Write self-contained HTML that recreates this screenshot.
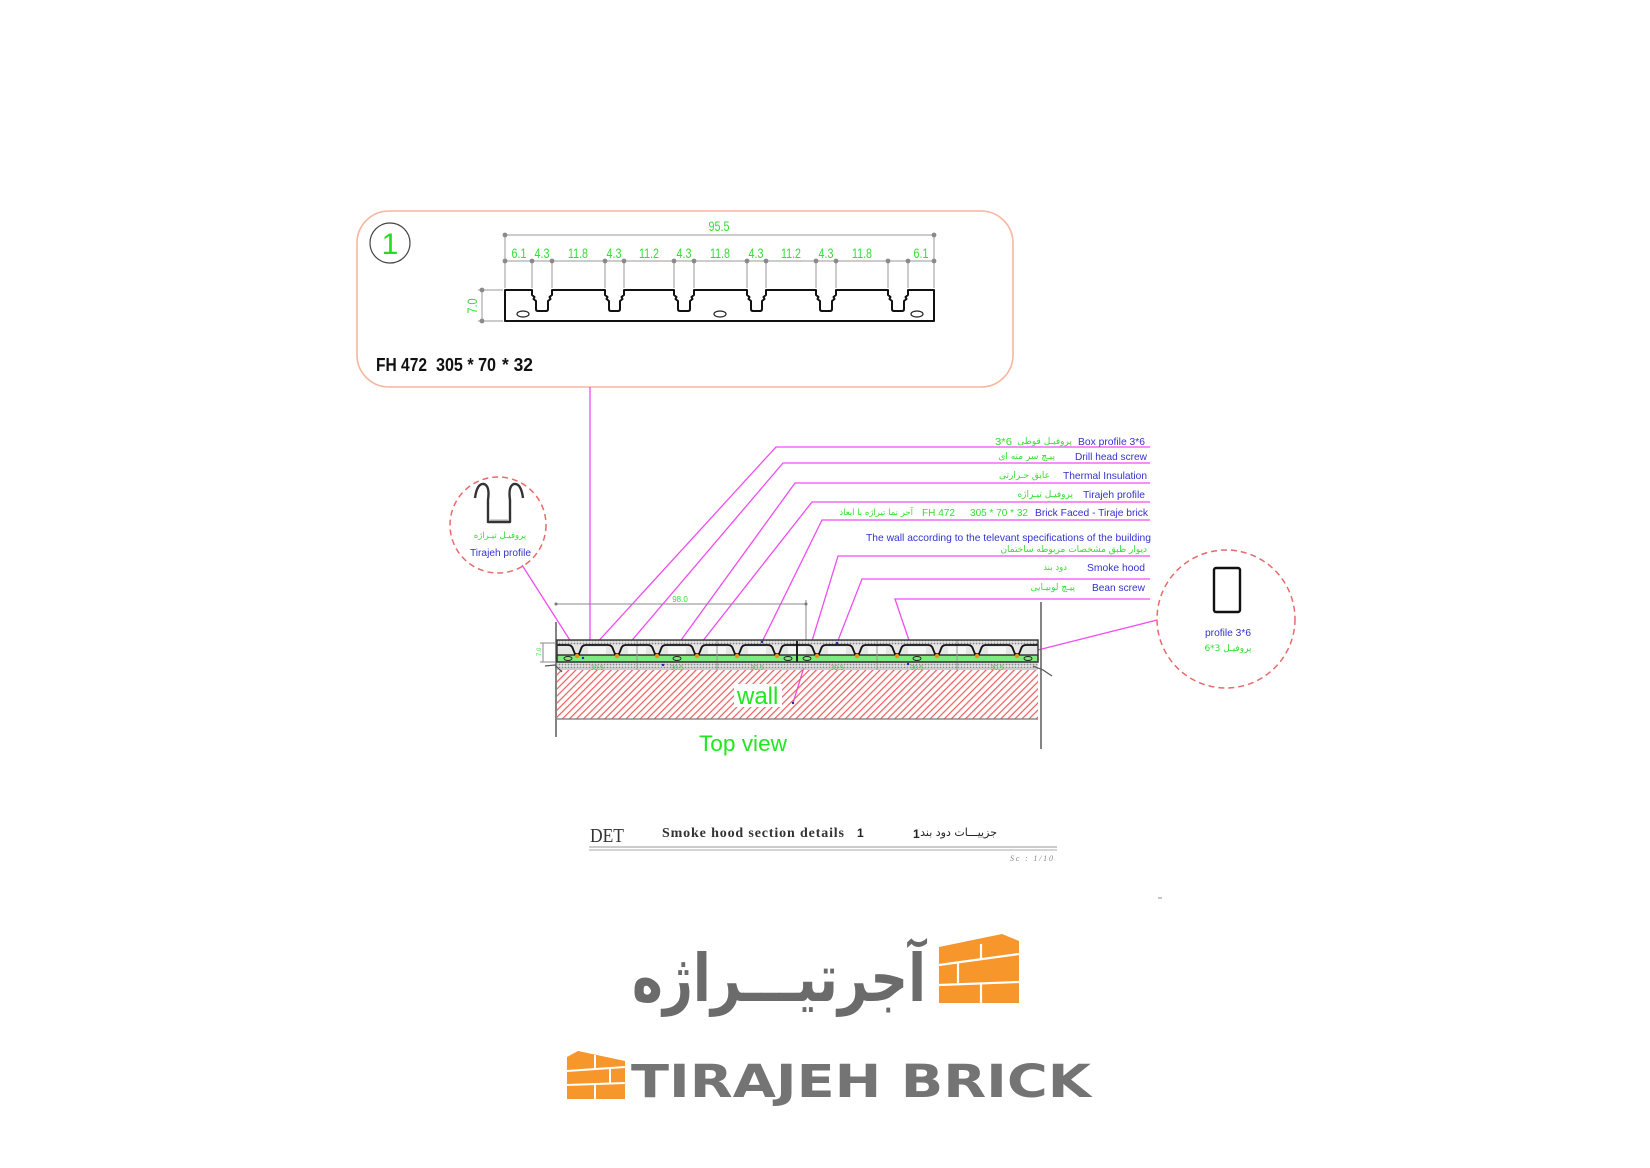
<!DOCTYPE html>
<html><head><meta charset="utf-8"><style>
html,body{margin:0;padding:0;background:#fff;}
svg{display:block;}
.en{font-family:"Liberation Sans",Arial,sans-serif;}
.fa{font-family:"DejaVu Sans","Liberation Sans",sans-serif;}
</style></head><body>
<svg width="1650" height="1168" viewBox="0 0 1650 1168" xmlns="http://www.w3.org/2000/svg">
<defs>
<pattern id="hatch" width="5" height="5" patternUnits="userSpaceOnUse" patternTransform="rotate(45)">
<line x1="1" y1="0" x2="1" y2="5" stroke="#ee5a5a" stroke-width="1.2"/>
</pattern>
<pattern id="dots" width="3" height="3" patternUnits="userSpaceOnUse">
<rect width="3" height="3" fill="#e2e2e2"/><circle cx="1.5" cy="1.5" r="0.9" fill="#8a8a8a"/>
</pattern>
</defs>
<rect width="1650" height="1168" fill="#fff"/>

<!-- ===== Detail 1 box ===== -->
<rect x="357" y="211" width="656" height="176" rx="32" fill="none" stroke="#f5b7a0" stroke-width="1.6"/>
<circle cx="390" cy="243" r="20" fill="none" stroke="#444" stroke-width="1.2"/>
<text x="390" y="254" text-anchor="middle" class="en" font-size="30" fill="#22dd22">1</text>

<!-- dimensions -->
<g stroke="#9a9a9a" stroke-width="1" fill="none">
<line x1="505" y1="235" x2="934" y2="235"/>
<line x1="505" y1="261" x2="934" y2="261"/>
<line x1="505" y1="235" x2="505" y2="288"/>
<line x1="934" y1="235" x2="934" y2="288"/>
<line x1="532" y1="261" x2="532" y2="288"/><line x1="552" y1="261" x2="552" y2="288"/>
<line x1="605" y1="261" x2="605" y2="288"/><line x1="624" y1="261" x2="624" y2="288"/>
<line x1="674" y1="261" x2="674" y2="288"/><line x1="694" y1="261" x2="694" y2="288"/>
<line x1="747" y1="261" x2="747" y2="288"/><line x1="766" y1="261" x2="766" y2="288"/>
<line x1="816" y1="261" x2="816" y2="288"/><line x1="836" y1="261" x2="836" y2="288"/>
<line x1="888" y1="261" x2="888" y2="288"/><line x1="908" y1="261" x2="908" y2="288"/>
<line x1="482" y1="290" x2="482" y2="321"/>
<line x1="478" y1="290" x2="503" y2="290"/>
<line x1="478" y1="321" x2="503" y2="321"/>
</g>
<g fill="#8a8a8a">
<circle cx="505" cy="235" r="2.4"/><circle cx="934" cy="235" r="2.4"/>
<circle cx="505" cy="261" r="2.4"/><circle cx="532" cy="261" r="2.4"/><circle cx="552" cy="261" r="2.4"/>
<circle cx="605" cy="261" r="2.4"/><circle cx="624" cy="261" r="2.4"/><circle cx="674" cy="261" r="2.4"/>
<circle cx="694" cy="261" r="2.4"/><circle cx="747" cy="261" r="2.4"/><circle cx="766" cy="261" r="2.4"/>
<circle cx="816" cy="261" r="2.4"/><circle cx="836" cy="261" r="2.4"/><circle cx="888" cy="261" r="2.4"/>
<circle cx="908" cy="261" r="2.4"/><circle cx="934" cy="261" r="2.4"/>
<circle cx="482" cy="290" r="2.4"/><circle cx="482" cy="321" r="2.4"/>
</g>
<g class="en" font-size="14" fill="#33dd33" text-anchor="middle">
<text x="719" y="231" textLength="21" lengthAdjust="spacingAndGlyphs">95.5</text>
<text x="519" y="258" textLength="15" lengthAdjust="spacingAndGlyphs">6.1</text>
<text x="542" y="258" textLength="15" lengthAdjust="spacingAndGlyphs">4.3</text>
<text x="578" y="258" textLength="20" lengthAdjust="spacingAndGlyphs">11.8</text>
<text x="614" y="258" textLength="15" lengthAdjust="spacingAndGlyphs">4.3</text>
<text x="649" y="258" textLength="20" lengthAdjust="spacingAndGlyphs">11.2</text>
<text x="684" y="258" textLength="15" lengthAdjust="spacingAndGlyphs">4.3</text>
<text x="720" y="258" textLength="20" lengthAdjust="spacingAndGlyphs">11.8</text>
<text x="756" y="258" textLength="15" lengthAdjust="spacingAndGlyphs">4.3</text>
<text x="791" y="258" textLength="20" lengthAdjust="spacingAndGlyphs">11.2</text>
<text x="826" y="258" textLength="15" lengthAdjust="spacingAndGlyphs">4.3</text>
<text x="862" y="258" textLength="20" lengthAdjust="spacingAndGlyphs">11.8</text>
<text x="921" y="258" textLength="15" lengthAdjust="spacingAndGlyphs">6.1</text>
<text x="0" y="0" transform="translate(477,306) rotate(-90)" textLength="15" lengthAdjust="spacingAndGlyphs">7.0</text>
</g>

<!-- profile FH472 -->
<path fill="#fff" stroke="#111" stroke-width="2" stroke-linejoin="round" d="M505,290 L532,290
L532,295 L534.5,297 L533.5,299 L536,301 L536,309 Q536,311 538,311 L546,311 Q548,311 548,309 L548,301 L550.5,299 L549.5,297 L552,295 L552,290
L605,290 L605,295 L607.5,297 L606.5,299 L609,301 L609,309 Q609,311 611,311 L618,311 Q620,311 620,309 L620,301 L622.5,299 L621.5,297 L624,295 L624,290
L674,290 L674,295 L676.5,297 L675.5,299 L678,301 L678,309 Q678,311 680,311 L688,311 Q690,311 690,309 L690,301 L692.5,299 L691.5,297 L694,295 L694,290
L747,290 L747,295 L749.5,297 L748.5,299 L751,301 L751,309 Q751,311 753,311 L760,311 Q762,311 762,309 L762,301 L764.5,299 L763.5,297 L766,295 L766,290
L816,290 L816,295 L818.5,297 L817.5,299 L820,301 L820,309 Q820,311 822,311 L830,311 Q832,311 832,309 L832,301 L834.5,299 L833.5,297 L836,295 L836,290
L888,290 L888,295 L890.5,297 L889.5,299 L892,301 L892,309 Q892,311 894,311 L902,311 Q904,311 904,309 L904,301 L906.5,299 L905.5,297 L908,295 L908,290
L934,290 L934,321 L505,321 Z"/>
<g fill="none" stroke="#222" stroke-width="1.2">
<ellipse cx="523" cy="314" rx="6" ry="3"/>
<ellipse cx="720" cy="314" rx="6" ry="3"/>
<ellipse cx="917" cy="314" rx="6" ry="3"/>
</g>
<g class="en" font-size="18" font-weight="bold" fill="#111">
<text x="376" y="371" textLength="51" lengthAdjust="spacingAndGlyphs">FH 472</text>
<text x="436" y="371" textLength="60" lengthAdjust="spacingAndGlyphs">305 * 70</text>
<text x="502" y="371" textLength="31" lengthAdjust="spacingAndGlyphs">* 32</text>
</g>

<!-- ===== Leader lines ===== -->
<g stroke="#f04cf0" stroke-width="1.3" fill="none">
<line x1="590" y1="387" x2="590" y2="645"/>
<polyline points="1150,447 776,447 583,658"/>
<polyline points="1150,463 783,463 628,645"/>
<polyline points="1150,483 795,483 663,665"/>
<polyline points="1150,502 812,502 698,647"/>
<polyline points="1150,520 822,520 762,642"/>
<polyline points="1150,556 838,556 793,703"/>
<polyline points="1150,579 862,579 837,643"/>
<polyline points="1150,599 895,599 915,658"/>
<line x1="522" y1="565" x2="573" y2="645"/>
<line x1="1157" y1="620" x2="1030" y2="652"/>
</g>

<!-- ===== Labels ===== -->
<g class="en" font-size="10.5" fill="#3333cc">
<text x="1078" y="445" textLength="67" lengthAdjust="spacingAndGlyphs">Box profile 3*6</text>
<text x="1075" y="460" textLength="72" lengthAdjust="spacingAndGlyphs">Drill head screw</text>
<text x="1063" y="479" textLength="84" lengthAdjust="spacingAndGlyphs">Thermal Insulation</text>
<text x="1083" y="498" textLength="62" lengthAdjust="spacingAndGlyphs">Tirajeh profile</text>
<text x="1035" y="516" textLength="113" lengthAdjust="spacingAndGlyphs">Brick Faced - Tiraje brick</text>
<text x="866" y="541" textLength="285" lengthAdjust="spacingAndGlyphs">The wall according to the televant specifications of the building</text>
<text x="1087" y="571" textLength="58" lengthAdjust="spacingAndGlyphs">Smoke hood</text>
<text x="1092" y="591" textLength="53" lengthAdjust="spacingAndGlyphs">Bean screw</text>
</g>
<g fill="#33dd33">
<text x="995" y="445" class="en" font-size="10.5" textLength="17" lengthAdjust="spacingAndGlyphs">3*6</text>
<text x="1072" y="444" class="fa" font-size="9" text-anchor="end">پروفیـل قوطی</text>
<text x="1055" y="459" class="fa" font-size="9" text-anchor="end">پیـچ سر مته ای</text>
<text x="1050" y="478" class="fa" font-size="9" text-anchor="end">عایق حـرارتی</text>
<text x="1073" y="497" class="fa" font-size="9" text-anchor="end">پروفیـل تیـراژه</text>
<text x="970" y="516" class="en" font-size="10.5" textLength="58" lengthAdjust="spacingAndGlyphs">305 * 70 * 32</text>
<text x="922" y="516" class="en" font-size="10.5" textLength="33" lengthAdjust="spacingAndGlyphs">FH 472</text>
<text x="913" y="515" class="fa" font-size="8.5" text-anchor="end">آجر نما تیراژه با ابعاد</text>
<text x="1147" y="552" class="fa" font-size="9" text-anchor="end">دیوار طبق مشخصات مربوطه ساختمان</text>
<text x="1067" y="570" class="fa" font-size="8.5" text-anchor="end">دود بند</text>
<text x="1075" y="590" class="fa" font-size="9" text-anchor="end">پیـچ لوبیـایی</text>
</g>

<!-- ===== Left circle: Tirajeh profile ===== -->
<circle cx="498" cy="525" r="48" fill="none" stroke="#e86a6a" stroke-width="1.5" stroke-dasharray="6 4"/>
<path d="M475,498 Q477,483 484,484 Q490,486 488,500 L488,522 L510,522 L510,500 Q508,486 514,484 Q521,483 523,498" fill="none" stroke="#333" stroke-width="2.4" stroke-linejoin="round"/>
<line x1="490" y1="520" x2="508" y2="520" stroke="#aaa" stroke-width="1"/>
<text x="500" y="538" class="fa" font-size="8.5" fill="#33dd33" text-anchor="middle">پروفیـل تیـراژه</text>
<text x="470" y="556" class="en" font-size="10" fill="#3333cc" textLength="61" lengthAdjust="spacingAndGlyphs">Tirajeh profile</text>

<!-- ===== Right circle: profile 3*6 ===== -->
<circle cx="1226" cy="619" r="69" fill="none" stroke="#e86a6a" stroke-width="1.5" stroke-dasharray="6 4"/>
<rect x="1214" y="568" width="26" height="44" rx="2" fill="none" stroke="#111" stroke-width="2.4"/>
<text x="1205" y="636" class="en" font-size="10.5" fill="#3333cc" textLength="46" lengthAdjust="spacingAndGlyphs">profile 3*6</text>
<text x="1228" y="651" class="fa" font-size="9" fill="#33dd33" text-anchor="middle">پروفیـل 3*6</text>

<!-- ===== Section drawing ===== -->
<line x1="556" y1="622" x2="556" y2="737" stroke="#666" stroke-width="1.6"/>
<line x1="1041" y1="602" x2="1041" y2="749" stroke="#666" stroke-width="1.6"/>
<g stroke="#888" stroke-width="1">
<line x1="556" y1="604" x2="806" y2="604"/>
<line x1="806" y1="600" x2="806" y2="641"/>
<line x1="543" y1="643" x2="543" y2="662"/>
<line x1="540" y1="643" x2="556" y2="643"/>
<line x1="540" y1="662" x2="556" y2="662"/>
</g>
<circle cx="556" cy="604" r="1.5" fill="#777"/><circle cx="806" cy="604" r="1.5" fill="#777"/>
<text x="680" y="602" class="en" font-size="8" fill="#33dd33" text-anchor="middle">98.0</text>
<text x="0" y="0" transform="translate(541,656) rotate(-90)" class="en" font-size="6" fill="#33dd33">7.0</text>

<!-- wall hatch -->
<rect x="557" y="670" width="481" height="49" fill="url(#hatch)"/>
<line x1="557" y1="719" x2="1038" y2="719" stroke="#777" stroke-width="1.2"/>
<line x1="557" y1="669" x2="1038" y2="669" stroke="#999" stroke-width="1"/>
<!-- insulation band -->
<rect x="557" y="662" width="481" height="6" fill="url(#dots)"/>
<!-- panel upper zone -->
<rect x="557" y="640" width="481" height="5" fill="url(#dots)"/>
<rect x="557" y="645" width="481" height="10" fill="#e6e6e6"/>
<g fill="#f7f7f7">
<rect x="588" y="647" width="18" height="7"/><rect x="628" y="647" width="18" height="7"/>
<rect x="668" y="647" width="18" height="7"/><rect x="708" y="647" width="18" height="7"/>
<rect x="748" y="647" width="18" height="7"/><rect x="788" y="647" width="18" height="7"/>
<rect x="828" y="647" width="18" height="7"/><rect x="868" y="647" width="18" height="7"/>
<rect x="908" y="647" width="18" height="7"/><rect x="948" y="647" width="18" height="7"/>
<rect x="988" y="647" width="18" height="7"/>
</g>
<!-- green band -->
<rect x="557" y="655" width="481" height="7" fill="#80ea80" stroke="#111" stroke-width="1.2"/>
<!-- brick separators -->
<g stroke="#999" stroke-width="1">
<line x1="637" y1="640" x2="637" y2="670"/><line x1="717" y1="640" x2="717" y2="670"/>
<line x1="877" y1="640" x2="877" y2="670"/><line x1="957" y1="640" x2="957" y2="670"/>
</g>
<line x1="797" y1="641" x2="797" y2="662" stroke="#222" stroke-width="2"/>
<!-- profile line -->
<path fill="none" stroke="#111" stroke-width="1.8" stroke-linejoin="round" d="M557,645
L568,645 Q572,645 573,649 L575,654 L579,654 L581,649 Q582,645 586,645
L608,645 Q612,645 613,649 L615,654 L619,654 L621,649 Q622,645 626,645
L648,645 Q652,645 653,649 L655,654 L659,654 L661,649 Q662,645 666,645
L688,645 Q692,645 693,649 L695,654 L699,654 L701,649 Q702,645 706,645
L728,645 Q732,645 733,649 L735,654 L739,654 L741,649 Q742,645 746,645
L768,645 Q772,645 773,649 L775,654 L779,654 L781,649 Q782,645 786,645
L808,645 Q812,645 813,649 L815,654 L819,654 L821,649 Q822,645 826,645
L848,645 Q852,645 853,649 L855,654 L859,654 L861,649 Q862,645 866,645
L888,645 Q892,645 893,649 L895,654 L899,654 L901,649 Q902,645 906,645
L928,645 Q932,645 933,649 L935,654 L939,654 L941,649 Q942,645 946,645
L968,645 Q972,645 973,649 L975,654 L979,654 L981,649 Q982,645 986,645
L1008,645 Q1012,645 1013,649 L1015,654 L1019,654 L1021,649 Q1022,645 1026,645
L1038,645"/>
<rect x="557" y="640" width="481" height="22" fill="none" stroke="#333" stroke-width="1.4"/>
<g fill="#f28a1e">
<circle cx="577" cy="656" r="2.2"/><circle cx="617" cy="656" r="2.2"/><circle cx="657" cy="656" r="2.2"/>
<circle cx="697" cy="656" r="2.2"/><circle cx="737" cy="656" r="2.2"/><circle cx="777" cy="656" r="2.2"/>
<circle cx="817" cy="656" r="2.2"/><circle cx="857" cy="656" r="2.2"/><circle cx="897" cy="656" r="2.2"/>
<circle cx="937" cy="656" r="2.2"/><circle cx="977" cy="656" r="2.2"/><circle cx="1017" cy="656" r="2.2"/>
</g>
<g fill="none" stroke="#222" stroke-width="0.9">
<ellipse cx="568" cy="658.5" rx="4" ry="2"/><ellipse cx="677" cy="658.5" rx="4" ry="2"/>
<ellipse cx="788" cy="658.5" rx="4" ry="2"/><ellipse cx="807" cy="658.5" rx="4" ry="2"/>
<ellipse cx="917" cy="658.5" rx="4" ry="2"/><ellipse cx="1028" cy="658.5" rx="4" ry="2"/>
</g>
<g fill="#2222cc">
<circle cx="583" cy="658" r="1.2"/><circle cx="663" cy="665" r="1.2"/><circle cx="762" cy="642" r="1.2"/>
<circle cx="837" cy="643" r="1.2"/><circle cx="793" cy="703" r="1.2"/><circle cx="908" cy="664" r="1.2"/>
</g>
<g class="en" font-size="7" fill="#44cc44" text-anchor="middle">
<text x="597" y="670">30.5</text><text x="677" y="670">30.5</text><text x="757" y="670">30.5</text>
<text x="837" y="670">30.5</text><text x="917" y="670">30.5</text><text x="997" y="670">30.5</text>
</g>
<g stroke="#555" stroke-width="1.2" fill="none">
<polyline points="545,666 555,665 562,672"/>
<polyline points="1033,666 1043,670 1052,676"/>
</g>
<!-- wall label -->
<rect x="734" y="684" width="48" height="23" fill="#fff"/>
<text x="737" y="704" class="en" font-size="24" fill="#22e622">wall</text>
<text x="699" y="751" class="en" font-size="22" fill="#22e622" textLength="88" lengthAdjust="spacingAndGlyphs">Top view</text>

<!-- ===== Title block ===== -->
<text x="590" y="842" font-family="Liberation Serif, serif" font-size="20" fill="#333" textLength="34" lengthAdjust="spacingAndGlyphs">DET</text>
<text x="662" y="837" font-family="Liberation Serif, serif" font-size="14" font-weight="bold" fill="#333" textLength="182" lengthAdjust="spacing">Smoke hood section details</text>
<text x="857" y="837" class="en" font-size="12" font-weight="bold" fill="#222">1</text>
<text x="913" y="838" class="en" font-size="12" font-weight="bold" fill="#222">1</text>
<text x="997" y="836" class="fa" font-size="11" fill="#222" text-anchor="end">جزییـــات دود بند</text>
<line x1="589" y1="847" x2="1057" y2="847" stroke="#999" stroke-width="1"/>
<line x1="589" y1="850" x2="1057" y2="850" stroke="#aaa" stroke-width="1"/>
<text x="1010" y="861" font-family="Liberation Serif, serif" font-style="italic" font-size="8" fill="#888" textLength="43" lengthAdjust="spacing">Sc : 1/10</text>
<line x1="1158" y1="898" x2="1162" y2="898" stroke="#888" stroke-width="1"/>

<!-- ===== Logo Persian ===== -->
<text x="632" y="1001" class="fa" font-size="66" font-weight="bold" fill="#6b6b6b" textLength="294" lengthAdjust="spacingAndGlyphs">آجرتیـــراژه</text>
<polygon points="939,947 1002,934 1019,941 1019,1003 939,1003" fill="#f7962b"/>
<g stroke="#fff" stroke-width="2.2">
<line x1="939" y1="965" x2="1019" y2="954"/>
<line x1="939" y1="985" x2="1019" y2="982"/>
<line x1="981" y1="944" x2="981" y2="960"/>
<line x1="958" y1="963" x2="958" y2="985"/>
<line x1="981" y1="983" x2="981" y2="1003"/>
</g>

<!-- ===== Logo English ===== -->
<polygon points="567,1057 578,1051 625,1061 625,1099 567,1099" fill="#f7962b"/>
<g stroke="#fff" stroke-width="2">
<line x1="567" y1="1071" x2="625" y2="1067"/>
<line x1="567" y1="1085" x2="625" y2="1083"/>
<line x1="595" y1="1055" x2="595" y2="1070"/>
<line x1="610" y1="1068" x2="610" y2="1084"/>
<line x1="595" y1="1084" x2="595" y2="1099"/>
</g>
<text x="631" y="1097" font-family="DejaVu Sans, Liberation Sans, sans-serif" font-weight="bold" font-size="45" fill="#747474" textLength="460" lengthAdjust="spacingAndGlyphs">TIRAJEH BRICK</text>
</svg>
</body></html>
